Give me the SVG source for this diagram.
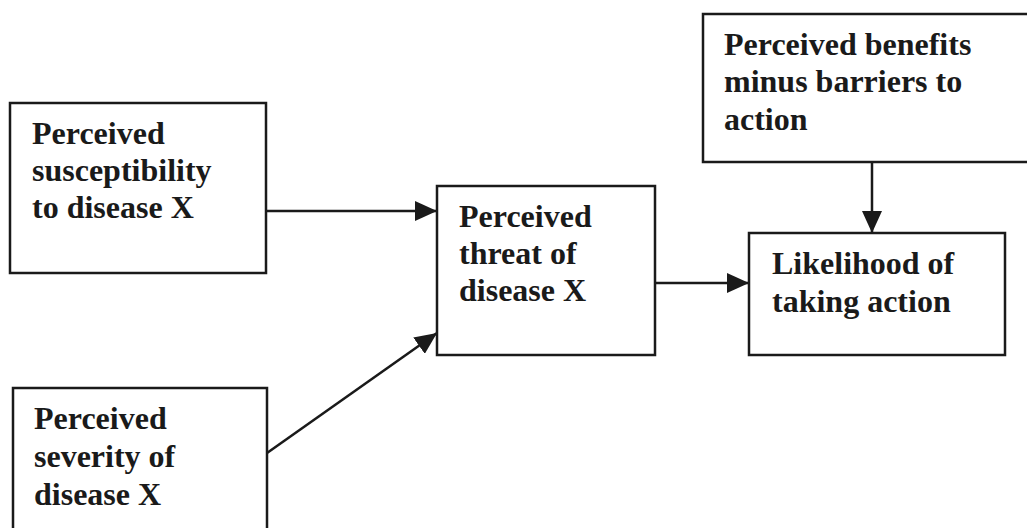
<svg xmlns="http://www.w3.org/2000/svg" width="1027" height="528" viewBox="0 0 1027 528">
<style>
.box{fill:#fff;stroke:#1a1a1a;stroke-width:2.5}
.t{font-family:"Liberation Serif","Times New Roman",serif;font-weight:bold;font-size:32px;fill:#1a1a1a}
.c{stroke:#1a1a1a;stroke-width:2.5;fill:none}
</style>
<defs>
<marker id="a" viewBox="0 0 22 20" refX="22" refY="10" markerWidth="22" markerHeight="20" markerUnits="userSpaceOnUse" orient="auto">
<path d="M0,0 L22,10 L0,20 z" fill="#1a1a1a"/>
</marker>
</defs>
<rect width="1027" height="528" fill="#fff"/>
<g id="connectors">
<line class="c" x1="267" y1="211" x2="437" y2="211" marker-end="url(#a)"/>
<line class="c" x1="267" y1="453" x2="437" y2="333" marker-end="url(#a)"/>
<line class="c" x1="655" y1="283" x2="749" y2="283" marker-end="url(#a)"/>
<line class="c" x1="872" y1="162" x2="872" y2="233" marker-end="url(#a)"/>
</g>
<g id="susceptibility">
<rect class="box" x="10" y="103" width="256" height="170"/>
<text class="t" x="32" y="144">Perceived</text>
<text class="t" x="32" y="181">susceptibility</text>
<text class="t" x="32" y="218">to disease X</text>
</g>
<g id="severity">
<rect class="box" x="13" y="388" width="254" height="160"/>
<text class="t" x="34" y="429">Perceived</text>
<text class="t" x="34" y="467">severity of</text>
<text class="t" x="34" y="505">disease X</text>
</g>
<g id="threat">
<rect class="box" x="437" y="186" width="218" height="169"/>
<text class="t" x="459" y="227">Perceived</text>
<text class="t" x="459" y="264">threat of</text>
<text class="t" x="459" y="301">disease X</text>
</g>
<g id="benefits">
<rect class="box" x="703" y="14" width="340" height="148"/>
<text class="t" x="724" y="55">Perceived benefits</text>
<text class="t" x="724" y="92">minus barriers to</text>
<text class="t" x="724" y="130">action</text>
</g>
<g id="likelihood">
<rect class="box" x="749" y="233" width="256" height="122"/>
<text class="t" x="772" y="274">Likelihood of</text>
<text class="t" x="772" y="312">taking action</text>
</g>
</svg>
